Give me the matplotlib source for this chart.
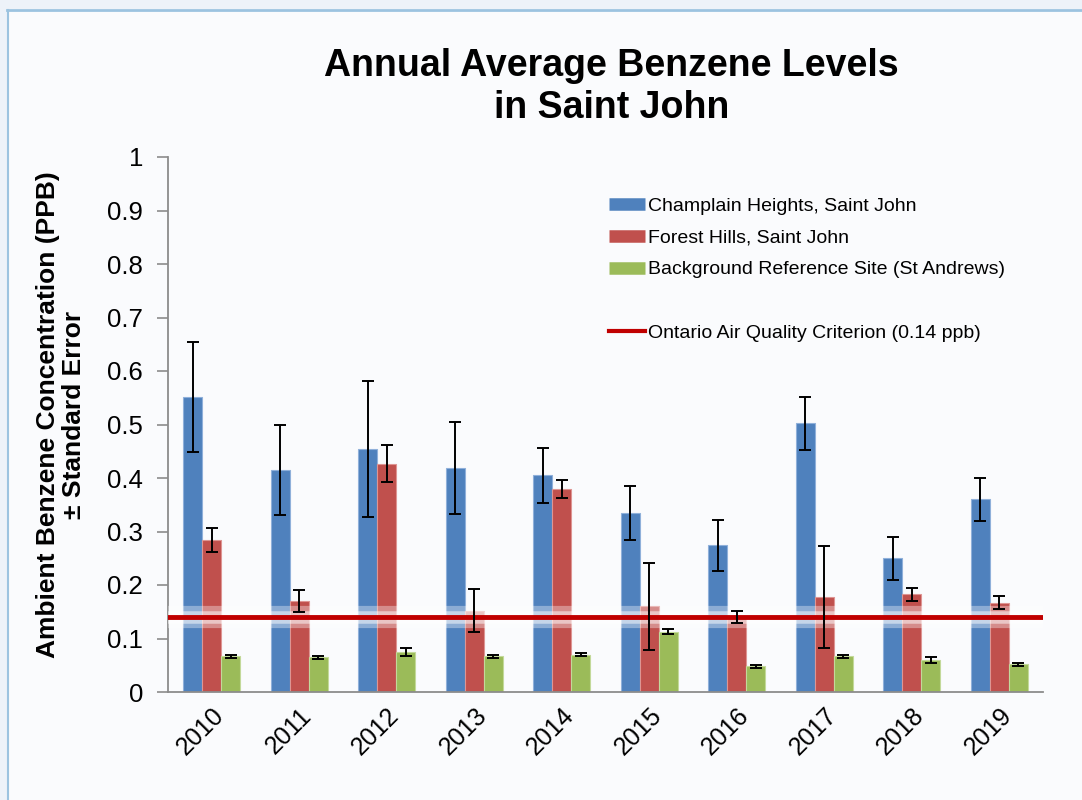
import matplotlib
matplotlib.use("Agg")
from matplotlib import pyplot as plt
from matplotlib.lines import Line2D
from matplotlib.patches import Rectangle
import numpy as np

# values (ppb)
years = ["2010", "2011", "2012", "2013", "2014", "2015", "2016", "2017", "2018", "2019"]
champlain = [0.551, 0.415, 0.455, 0.419, 0.405, 0.335, 0.274, 0.502, 0.250, 0.360]
champlain_err = [0.103, 0.085, 0.127, 0.086, 0.052, 0.050, 0.047, 0.050, 0.040, 0.040]
forest = [0.284, 0.170, 0.427, 0.152, 0.380, 0.160, 0.140, 0.178, 0.183, 0.167]
forest_err = [0.022, 0.020, 0.035, 0.040, 0.017, 0.082, 0.011, 0.095, 0.012, 0.012]
background = [0.067, 0.065, 0.075, 0.067, 0.070, 0.113, 0.048, 0.067, 0.060, 0.052]
background_err = [0.003, 0.003, 0.007, 0.003, 0.003, 0.004, 0.003, 0.003, 0.006, 0.003]
criterion = 0.14

series_names = ["Champlain Heights, Saint John", "Forest Hills, Saint John",
                "Background Reference Site (St Andrews)"]
criterion_name = "Ontario Air Quality Criterion (0.14 ppb)"
colors = ["#4F81BD", "#C0504D", "#9BBB59"]
edges = ["#8FB0DA", "#DE9593", "#C3D99A"]

plt.rcParams['font.family'] = ['Liberation Sans', 'DejaVu Sans']

fig = plt.figure(figsize=(10.82, 8), dpi=100, facecolor="#FAFBFD")

# slide frame: light band on top/left and a thin blue border
fig.patches.append(Rectangle((0, 1 - 9 / 800), 1, 9 / 800, transform=fig.transFigure,
                             facecolor="#EDF2F9", edgecolor="none", zorder=0))
fig.patches.append(Rectangle((0, 0), 7 / 1082, 1, transform=fig.transFigure,
                             facecolor="#EDF2F9", edgecolor="none", zorder=0))
fig.add_artist(Line2D([7 / 1082, 1], [1 - 10 / 800, 1 - 10 / 800], transform=fig.transFigure,
                      color="#9CC3E0", lw=2))
fig.add_artist(Line2D([8 / 1082, 8 / 1082], [0, 1 - 10 / 800], transform=fig.transFigure,
                      color="#9CC3E0", lw=1.5))

ax = fig.add_axes([0.1553, 0.135, 0.8087, 0.66875])
ax.set_facecolor("none")

x = np.arange(len(years))
w = 0.217
data = [(champlain, champlain_err), (forest, forest_err), (background, background_err)]
for i, (vals, errs) in enumerate(data):
    pos = x + (i - 1) * w
    ax.bar(pos, vals, width=w, color=colors[i], edgecolor=edges[i], linewidth=0.8, zorder=2)
    ax.errorbar(pos, vals, yerr=errs, fmt="none", ecolor="black", elinewidth=1.4,
                capsize=4, capthick=1.4, zorder=5)

# soft glow behind the criterion line, then the line itself
ax.axhline(criterion, color="white", lw=16, alpha=0.35, zorder=3)
ax.axhline(criterion, color="white", lw=9, alpha=0.5, zorder=3)
ax.axhline(criterion, color="#C00000", lw=3.5, zorder=4)

ax.set_xlim(-0.5, len(years) - 0.5)
ax.set_ylim(0, 1)
yt = np.round(np.arange(0, 1.01, 0.1), 1)
ax.set_yticks(yt)
ax.set_yticklabels(["0" if v == 0 else ("1" if v == 1 else f"{v:.1f}") for v in yt],
                   fontsize=18.5)
ax.set_xticks(x)
ax.set_xticklabels(years, fontsize=18, rotation=45, ha="right", va="top",
                   rotation_mode="anchor")
ax.tick_params(axis="y", length=8, width=1.2, color="#8C8C8C", pad=10)
ax.tick_params(axis="x", length=0, pad=8)
for s in ["top", "right"]:
    ax.spines[s].set_visible(False)
for s in ["left", "bottom"]:
    ax.spines[s].set_color("#8C8C8C")
    ax.spines[s].set_linewidth(1.3)

ax.set_ylabel("Ambient Benzene Concentration (PPB)\n\u00b1 Standard Error",
              fontsize=19, fontweight="bold", linespacing=1.1)
ax.yaxis.set_label_coords(-0.094, 0.518)

fig.text(0.565, 0.891, "Annual Average Benzene Levels\nin Saint John", ha="center",
         va="center", fontsize=27, fontweight="bold", linespacing=1.22)

handles = [Line2D([], [], color=c, lw=9, solid_capstyle="butt") for c in colors]
handles.append(Line2D([], [], color="none"))
handles.append(Line2D([], [], color="#C00000", lw=3))
labels = series_names + [" ", criterion_name]
fig.legend(handles, labels, loc="upper left", bbox_to_anchor=(0.5625, 0.753),
           frameon=False, fontsize=14, handlelength=1.85, handletextpad=0.15,
           labelspacing=0.72, borderpad=0, borderaxespad=0)

fig.savefig("out.png", dpi=100, facecolor=fig.get_facecolor())
